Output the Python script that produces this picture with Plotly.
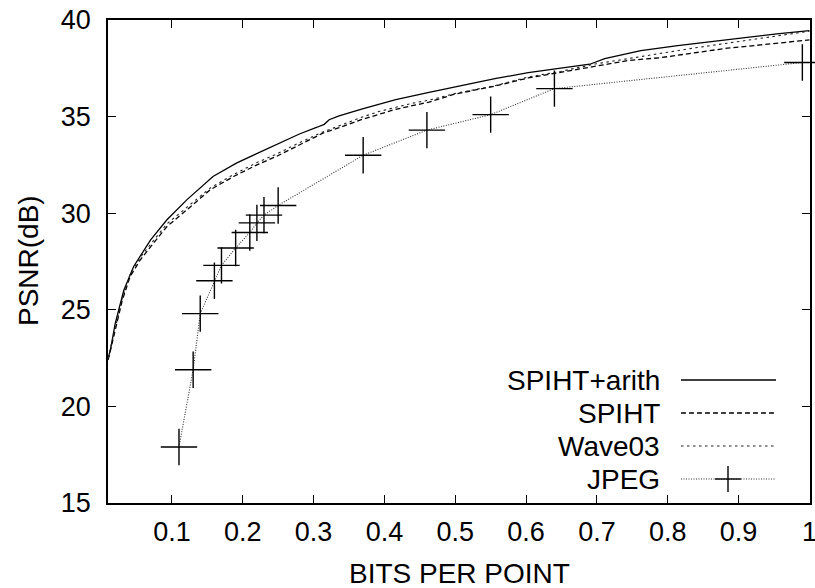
import plotly.graph_objects as go

# ---- data ----
arith_x = [0.01, 0.0133, 0.02, 0.032, 0.046, 0.07, 0.093, 0.121, 0.158, 0.191, 0.219, 0.243, 0.28,
           0.305, 0.315, 0.322, 0.336, 0.369, 0.416, 0.463, 0.51, 0.556, 0.603, 0.65, 0.69, 0.711,
           0.762, 0.814, 0.861, 0.908, 0.954, 1.0]
arith_y = [22.5, 22.94, 24.3, 26.0, 27.24, 28.62, 29.66, 30.69, 31.9, 32.59, 33.07, 33.48, 34.1,
           34.45, 34.6, 34.84, 35.04, 35.4, 35.88, 36.25, 36.62, 36.96, 37.28, 37.5, 37.71, 38.0,
           38.41, 38.67, 38.88, 39.11, 39.28, 39.45]

spiht_x = [0.01, 0.02, 0.03, 0.041, 0.0555, 0.074, 0.093, 0.121, 0.154, 0.187, 0.22, 0.247, 0.28,
           0.313, 0.334, 0.369, 0.416, 0.463, 0.5, 0.556, 0.603, 0.65, 0.697, 0.744, 0.79, 0.837,
           0.884, 0.931, 1.0]
spiht_y = [22.4, 24.0, 25.5, 26.72, 27.59, 28.45, 29.31, 30.17, 31.21, 31.9, 32.5, 32.93, 33.55,
           34.14, 34.4, 34.86, 35.38, 35.75, 36.17, 36.58, 37.0, 37.3, 37.59, 37.9, 38.05, 38.31,
           38.54, 38.71, 38.97]

wave_x = [0.01, 0.02, 0.03, 0.041, 0.0555, 0.074, 0.093, 0.121, 0.154, 0.187, 0.22, 0.247, 0.28,
          0.313, 0.334, 0.369, 0.392, 0.439, 0.463, 0.5, 0.556, 0.603, 0.65, 0.697, 0.744, 0.79,
          0.837, 0.884, 0.931, 1.0]
wave_y = [22.5, 24.1, 25.6, 26.85, 27.72, 28.58, 29.45, 30.3, 31.3, 32.0, 32.62, 33.05, 33.65,
          34.2, 34.5, 34.98, 35.26, 35.69, 35.85, 36.2, 36.6, 37.05, 37.35, 37.72, 38.0, 38.28,
          38.55, 38.8, 39.05, 39.42]

jpeg_x = [0.11, 0.13, 0.14, 0.16, 0.17, 0.19, 0.21, 0.22, 0.23, 0.25, 0.37, 0.46, 0.55, 0.64, 0.99]
jpeg_y = [17.9, 21.9, 24.8, 26.5, 27.3, 28.2, 29.0, 29.5, 29.9, 30.4, 33.0, 34.3, 35.1, 36.45, 37.8]

x_ticks = [0.1, 0.2, 0.3, 0.4, 0.5, 0.6, 0.7, 0.8, 0.9, 1.0]
x_tick_labels = ["0.1", "0.2", "0.3", "0.4", "0.5", "0.6", "0.7", "0.8", "0.9", "1"]
y_ticks = [15, 20, 25, 30, 35, 40]

series_names = ["SPIHT+arith", "SPIHT", "Wave03", "JPEG"]
x_title = "BITS PER POINT"
y_title = "PSNR(dB)"

FONT = "Liberation Sans, Arial, sans-serif"

fig = go.Figure()
fig.add_trace(go.Scatter(x=arith_x, y=arith_y, mode="lines", name=series_names[0],
                         line=dict(color="black", width=1.3)))
fig.add_trace(go.Scatter(x=spiht_x, y=spiht_y, mode="lines", name=series_names[1],
                         line=dict(color="black", width=1.3, dash="5px,3px")))
fig.add_trace(go.Scatter(x=wave_x, y=wave_y, mode="lines", name=series_names[2],
                         line=dict(color="#222", width=1.1, dash="2.5px,3.5px")))
fig.add_trace(go.Scatter(x=jpeg_x, y=jpeg_y, mode="lines+markers", name=series_names[3],
                         cliponaxis=False,
                         line=dict(color="#333", width=1.1, dash="1px,1.5px"),
                         marker=dict(symbol="cross-thin", size=26,
                                     line=dict(color="black", width=1.4))))

# plot-area pixel geometry used for the hand-made gnuplot-style key and titles
L, R, T, B = 108, 810, 20, 503
W, H = R - L, B - T
def px(xp):
    return (xp - L) / W
def py(yp):
    return (B - yp) / H

key_rows = [380, 413, 446, 479]
key_dash = ["solid", "5px,3px", "2.5px,3.5px", "1px,1.5px"]
key_col = ["black", "black", "#222", "#333"]
key_w = [1.3, 1.3, 1.1, 1.1]
shapes = []
annotations = []
for name, yrow, dash, col, w in zip(series_names, key_rows, key_dash, key_col, key_w):
    annotations.append(dict(xref="paper", yref="paper", x=px(662), y=py(yrow), text=name,
                            showarrow=False, xanchor="right", yanchor="middle",
                            font=dict(family=FONT, size=28, color="black")))
    shapes.append(dict(type="line", xref="paper", yref="paper", x0=px(681), x1=px(776),
                       y0=py(yrow), y1=py(yrow), line=dict(color=col, width=w, dash=dash)))
# JPEG key cross
cx, cy = 728, key_rows[3]
shapes.append(dict(type="line", xref="paper", yref="paper", x0=px(cx - 13), x1=px(cx + 13),
                   y0=py(cy), y1=py(cy), line=dict(color="black", width=1.4)))
shapes.append(dict(type="line", xref="paper", yref="paper", x0=px(cx), x1=px(cx),
                   y0=py(cy - 13), y1=py(cy + 13), line=dict(color="black", width=1.4)))

# axis titles
annotations.append(dict(xref="paper", yref="paper", x=px(459), y=py(573), text=x_title,
                        showarrow=False, xanchor="center", yanchor="middle",
                        font=dict(family=FONT, size=28, color="black")))
annotations.append(dict(xref="paper", yref="paper", x=px(28), y=py(261), text=y_title,
                        showarrow=False, xanchor="center", yanchor="middle", textangle=-90,
                        font=dict(family=FONT, size=28, color="black")))

fig.update_layout(
    width=815, height=588,
    margin=dict(l=L, r=815 - R, t=T, b=588 - B, pad=0),
    paper_bgcolor="white", plot_bgcolor="white",
    showlegend=False,
    font=dict(family=FONT, size=28, color="black"),
    shapes=shapes, annotations=annotations,
    xaxis=dict(range=[0.0098, 1.0008], tickvals=x_ticks, ticktext=x_tick_labels,
               ticks="inside", ticklen=8, tickwidth=1.2, tickcolor="black",
               showline=True, linecolor="black", linewidth=1.5, mirror="allticks",
               showgrid=False, zeroline=False, ticklabelstandoff=4, automargin=False,
               ticklabeloverflow="allow",
               tickfont=dict(family=FONT, size=27)),
    yaxis=dict(range=[15, 40], tickvals=y_ticks,
               ticks="inside", ticklen=8, tickwidth=1.2, tickcolor="black",
               showline=True, linecolor="black", linewidth=1.5, mirror="allticks",
               showgrid=False, zeroline=False, ticklabelstandoff=10, automargin=False,
               ticklabeloverflow="allow",
               tickfont=dict(family=FONT, size=27)),
)

fig.write_html(
    "out.html",
    config={"displayModeBar": False},
    post_script="document.body.style.margin='0';document.body.style.overflow='hidden';",
)
